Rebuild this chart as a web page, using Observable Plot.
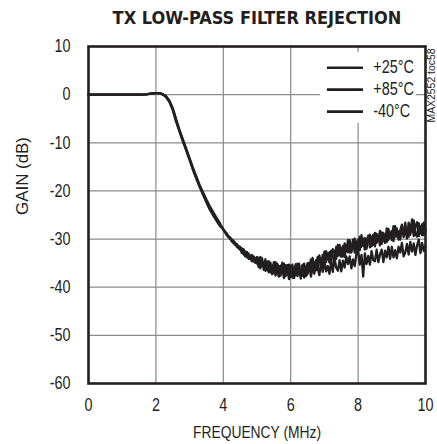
<!DOCTYPE html>
<html>
<head>
<meta charset="utf-8">
<script src="https://cdn.jsdelivr.net/npm/d3@7"></script>
<script src="https://cdn.jsdelivr.net/npm/@observablehq/plot@0.6"></script>
<style>
  html, body { margin: 0; padding: 0; background: #fff; }
</style>
</head>
<body>
<div id="chart"></div>
<script>
const FONT = '"Liberation Sans", Arial, Helvetica, sans-serif';
const TITLE_FONT = '"DejaVu Sans Condensed", "Liberation Sans", sans-serif';

const titleText = "TX LOW-PASS FILTER REJECTION";
const xLabel = "FREQUENCY (MHz)";
const yLabel = "GAIN (dB)";
const noteText = "MAX2552 toc58";
const xTicks = [0, 2, 4, 6, 8, 10];
const yTicks = [-60, -50, -40, -30, -20, -10, 0, 10];
const seriesNames = ["+25°C", "+85°C", "-40°C"];

const freq = [
  0, 0.3, 0.6, 1.0, 1.5, 1.7, 1.8, 1.9, 2.0, 2.1, 2.2, 2.3, 2.4, 2.5, 2.6, 2.7, 2.8, 2.9, 3.0, 3.1, 3.2, 3.3, 3.4, 3.5, 3.6, 3.7, 3.8, 3.9,
  4.00, 4.05, 4.10, 4.15, 4.20, 4.25, 4.30, 4.35, 4.40, 4.45,
  4.50, 4.55, 4.60, 4.65, 4.70, 4.75, 4.80, 4.85, 4.90, 4.95,
  5.00, 5.05, 5.10, 5.15, 5.20, 5.25, 5.30, 5.35, 5.40, 5.45,
  5.50, 5.55, 5.60, 5.65, 5.70, 5.75, 5.80, 5.85, 5.90, 5.95,
  6.00, 6.05, 6.10, 6.15, 6.20, 6.25, 6.30, 6.35, 6.40, 6.45,
  6.50, 6.55, 6.60, 6.65, 6.70, 6.75, 6.80, 6.85, 6.90, 6.95,
  7.00, 7.05, 7.10, 7.15, 7.20, 7.25, 7.30, 7.35, 7.40, 7.45,
  7.50, 7.55, 7.60, 7.65, 7.70, 7.75, 7.80, 7.85, 7.90, 7.95,
  8.00, 8.05, 8.10, 8.15, 8.20, 8.25, 8.30, 8.35, 8.40, 8.45,
  8.50, 8.55, 8.60, 8.65, 8.70, 8.75, 8.80, 8.85, 8.90, 8.95,
  9.00, 9.05, 9.10, 9.15, 9.20, 9.25, 9.30, 9.35, 9.40, 9.45,
  9.50, 9.55, 9.60, 9.65, 9.70, 9.75, 9.80, 9.85, 9.90, 9.95,
  10.00
];

const gain25 = [
  0, 0, 0, 0, 0, 0.05, 0.15, 0.25, 0.3, 0.3, 0.1, -0.4, -1.4, -3.0, -5.4, -7.5, -9.5, -11.4, -13.4, -15.4, -17.3, -19.0, -20.6, -22.1, -23.6, -24.8, -25.9, -27.0,
  -28.0, -28.6, -28.8, -29.6, -29.6, -30.5, -30.3, -31.2, -31.0, -31.9,
  -31.6, -32.6, -32.4, -33.6, -32.7, -33.6, -34.1, -33.3, -34.7, -34.1,
  -33.7, -35.8, -34.6, -34.0, -36.4, -35.7, -34.7, -36.9, -35.6, -36.8,
  -34.8, -36.6, -35.8, -37.7, -35.5, -36.2, -38.1, -35.4, -37.3, -35.3,
  -37.9, -35.9, -36.8, -35.2, -37.7, -36.1, -38.2, -35.5, -35.1, -37.1,
  -35.0, -36.4, -34.2, -36.6, -34.9, -36.5, -33.7, -34.2, -35.7, -33.3,
  -35.1, -32.5, -34.0, -32.7, -34.9, -32.1, -32.7, -34.1, -31.2, -33.4,
  -31.9, -33.6, -30.9, -32.5, -30.2, -32.8, -31.9, -30.1, -32.8, -30.5,
  -32.3, -29.5, -31.6, -29.9, -32.2, -30.3, -29.3, -31.7, -29.5, -31.2,
  -28.7, -30.8, -29.4, -31.3, -28.6, -30.0, -30.8, -27.8, -30.2, -28.6,
  -30.2, -27.3, -29.5, -27.8, -30.1, -28.2, -27.0, -29.6, -27.5, -29.9,
  -26.6, -29.1, -25.9, -29.4, -27.3, -26.5, -29.4, -27.4, -29.2, -26.6,
  -28.3
];

const gain85 = [
  0, 0, 0, 0, 0, 0.05, 0.15, 0.25, 0.3, 0.3, 0.05, -0.5, -1.5, -3.2, -5.6, -7.7, -9.7, -11.6, -13.6, -15.6, -17.5, -19.2, -20.8, -22.4, -23.9, -25.1, -26.2, -27.3,
  -27.9, -28.5, -29.1, -29.5, -29.7, -30.3, -30.5, -31.0, -31.2, -31.8,
  -32.2, -31.9, -33.2, -32.8, -32.7, -34.1, -33.4, -34.1, -33.6, -34.9,
  -35.1, -33.9, -36.1, -34.6, -35.4, -34.2, -36.5, -35.9, -34.9, -37.3,
  -37.0, -34.8, -36.5, -37.8, -35.6, -37.0, -35.1, -37.7, -36.1, -38.3,
  -35.5, -38.0, -36.0, -37.5, -35.1, -36.7, -37.8, -35.4, -38.0, -35.8,
  -37.1, -35.2, -37.8, -35.9, -37.2, -34.9, -35.9, -37.5, -34.9, -36.8,
  -34.6, -36.7, -35.6, -37.2, -34.6, -36.8, -33.9, -35.9, -36.6, -34.4,
  -36.7, -34.5, -35.9, -33.6, -35.2, -33.6, -36.1, -34.2, -35.6, -33.0,
  -32.2, -35.3, -33.3, -37.8, -33.0, -35.2, -33.5, -35.3, -32.5, -34.4,
  -34.6, -32.2, -34.8, -33.2, -32.2, -34.8, -32.4, -33.8, -31.6, -34.1,
  -31.6, -33.8, -32.3, -34.0, -31.6, -32.8, -30.8, -33.6, -32.8, -31.0,
  -33.2, -30.6, -32.6, -30.9, -33.3, -31.3, -30.1, -32.9, -30.8, -32.5,
  -31.4
];

const gainM40 = [
  0, 0, 0, 0, 0, 0.05, 0.15, 0.25, 0.3, 0.3, 0.1, -0.3, -1.2, -2.8, -5.1, -7.3, -9.3, -11.2, -13.2, -15.2, -17.0, -18.8, -20.3, -21.8, -23.2, -24.4, -25.6, -26.7,
  -28.1, -28.4, -29.2, -29.3, -30.0, -30.0, -30.9, -30.7, -31.6, -31.4,
  -31.9, -32.9, -32.1, -32.7, -33.8, -33.0, -34.0, -34.6, -33.7, -34.6,
  -34.3, -35.6, -33.7, -35.6, -35.0, -36.6, -34.8, -34.6, -36.9, -35.5,
  -35.4, -37.6, -35.1, -36.0, -37.6, -34.9, -36.9, -37.5, -35.4, -36.8,
  -36.4, -35.3, -38.1, -36.1, -37.2, -35.1, -37.4, -37.6, -35.6, -37.7,
  -37.2, -34.9, -35.9, -33.9, -36.3, -34.4, -36.2, -33.4, -34.9, -35.5,
  -32.6, -34.8, -33.0, -34.9, -32.4, -33.4, -34.5, -31.6, -33.5, -31.2,
  -33.7, -31.4, -33.7, -31.5, -32.7, -30.2, -32.8, -31.2, -29.9, -32.2,
  -30.1, -32.3, -29.2, -31.3, -29.8, -32.0, -30.1, -29.1, -31.5, -29.1,
  -31.5, -28.9, -30.1, -28.3, -31.0, -28.7, -30.1, -30.6, -27.9, -29.7,
  -28.3, -30.4, -27.3, -29.5, -28.4, -30.1, -27.5, -28.8, -26.6, -29.4,
  -29.5, -27.0, -28.5, -26.1, -29.0, -29.5, -26.7, -28.8, -26.9, -29.2,
  -27.8
];

const seriesGains = [gain25, gain85, gainM40];
const rows = [];
seriesNames.forEach((name, k) => {
  freq.forEach((f, i) => rows.push({ f, g: seriesGains[k][i], s: name }));
});

// legend placement (data units)
const legendRows = seriesNames.map((name, i) => ({ name, y: 5.6 - i * 4.56 }));
const legendBox = [{ x1: 6.88, x2: 9.73, y1: -6.0, y2: 8.75 }];

const INK = "#231f20";
const GRID = "#8a8a8a";

const chart = Plot.plot({
  width: 437,
  height: 444,
  marginTop: 46,
  marginBottom: 61,
  marginLeft: 88,
  marginRight: 12,
  style: { fontFamily: FONT, background: "#fff", color: INK },
  x: { domain: [0, 10] },
  y: { domain: [-60, 10] },
  marks: [
    Plot.ruleX([2, 4, 6, 8], { stroke: GRID, strokeWidth: 1.2 }),
    Plot.ruleY([-50, -40, -30, -20, -10, 0], { stroke: GRID, strokeWidth: 1.2 }),
    Plot.rect(legendBox, { x1: "x1", x2: "x2", y1: "y1", y2: "y2", fill: "#fff" }),
    Plot.line(rows, { x: "f", y: "g", z: "s", stroke: INK, strokeWidth: 2.3, strokeLinejoin: "round" }),
    Plot.ruleY(legendRows, { y: "y", x1: 7.09, x2: 8.16, stroke: INK, strokeWidth: 2.6 }),
    Plot.text(legendRows, { x: 8.45, y: "y", text: "name", textAnchor: "start", fontSize: 18, fill: INK, className: "cond" }),
    Plot.frame({ stroke: INK, strokeWidth: 2.6 }),
    Plot.axisX(xTicks, { tickSize: 0, tickPadding: 15, fontSize: 18, label: null, className: "cond" }),
    Plot.axisY(yTicks, { tickSize: 0, tickPadding: 18, fontSize: 18, label: null, tickFormat: d => String(d), className: "cond" }),
    Plot.text([titleText], { frameAnchor: "top", lineAnchor: "middle", dy: -28, fontSize: 18, fontWeight: "bold", fontFamily: TITLE_FONT, fill: INK }),
    Plot.text([xLabel], { frameAnchor: "bottom", lineAnchor: "middle", dy: 49, fontSize: 17, fill: INK, className: "xlab" }),
    Plot.text([yLabel], { frameAnchor: "left", lineAnchor: "middle", dx: -66, rotate: -90, fontSize: 17, fill: INK, className: "ylab" }),
    Plot.text([noteText], { frameAnchor: "top-right", lineAnchor: "middle", textAnchor: "middle", dx: 6, dy: 39, rotate: -90, fontSize: 10, fill: INK, className: "note" })
  ]
});

document.getElementById("chart").appendChild(chart);

// Simulate the condensed typeface of the original by compressing glyphs horizontally.
function squeeze(selector, factor, fixed) {
  chart.querySelectorAll(selector).forEach(t => {
    const len = t.getComputedTextLength();
    const target = fixed != null ? fixed : len * factor;
    t.setAttribute("textLength", target);
    t.setAttribute("lengthAdjust", "spacingAndGlyphs");
  });
}
squeeze(".cond text", 0.8);
squeeze(".xlab text", null, 128);
squeeze(".ylab text", null, 78);
squeeze(".note text", null, 74);
</script>
</body>
</html>
